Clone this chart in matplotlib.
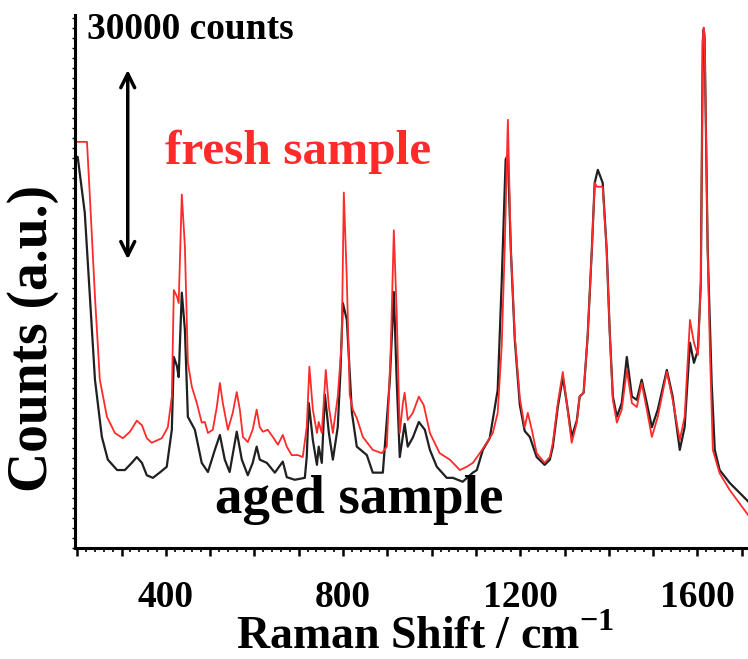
import numpy as np
import matplotlib
matplotlib.use('Agg')
import matplotlib.pyplot as plt
from matplotlib.ticker import MultipleLocator, FuncFormatter, NullFormatter

plt.rcParams['font.family'] = ['Liberation Serif', 'DejaVu Serif']
plt.rcParams['font.weight'] = 'bold'
plt.rcParams['mathtext.fontset'] = 'custom'
plt.rcParams['mathtext.rm'] = 'Liberation Serif'
plt.rcParams['mathtext.bf'] = 'Liberation Serif:bold'

# Raman shift (cm-1) and counts (x1000)
fresh_shift = [199, 210, 222, 228.5, 240, 251, 267, 285, 303, 319, 334.5, 346, 357, 368,
               391, 404.5, 413.5, 418, 425, 429, 436, 443, 449.7, 458.7, 470, 481, 488,
               495, 506, 515, 522, 528.6, 540, 551, 560, 567, 574, 585, 596, 605, 612,
               619, 630, 641.5, 653, 664, 673, 684, 698, 709, 718, 724, 731.8, 741, 745,
               752, 761, 768, 777, 788, 797, 801.7, 808.5, 815, 822, 831, 844.6, 867,
               887.5, 898.8, 907.8, 914.6, 921, 928, 935, 939, 946, 957.5, 971, 982, 996,
               1018, 1041, 1063.6, 1079, 1093, 1108.7, 1124.5, 1138, 1149, 1158, 1165,
               1172, 1178.7, 1187.7, 1199, 1210, 1217, 1226, 1237, 1255, 1266.7, 1273.5,
               1284.7, 1296, 1305, 1316, 1327.6, 1334, 1343, 1352, 1361.5, 1368, 1373,
               1386, 1395, 1402, 1409, 1418, 1429, 1440.5, 1452, 1463, 1474, 1485.6, 1497,
               1510.4, 1530.8, 1544, 1560, 1571, 1583, 1592, 1601, 1607.5, 1610, 1612,
               1614, 1616, 1621, 1623, 1628, 1634.6, 1650, 1673, 1714]
fresh_counts = [62.5, 62.5, 62.5, 54.1, 38.7, 25.9, 20.2, 17.7, 16.9, 17.9, 19.6, 18.9, 16.9,
                16.2, 16.9, 18.6, 23.3, 39.7, 38.7, 37.7, 54.4, 46.4, 28.5, 24.8, 22.3, 19.3,
                19.4, 17.7, 18.2, 21.7, 25.4, 22.3, 18.2, 20.8, 24.0, 21.3, 17.1, 16.3, 18.2,
                21.3, 18.6, 17.9, 18.2, 17.1, 15.9, 17.4, 15.6, 14.3, 14.3, 14.0, 18.6, 27.9,
                21.3, 17.7, 19.4, 17.7, 27.4, 21.7, 17.7, 23.3, 31.6, 54.7, 41.3, 23.6, 21.3,
                20.0, 17.1, 15.1, 14.6, 15.6, 31.0, 48.9, 36.2, 17.7, 22.3, 23.9, 19.7, 20.8,
                23.3, 22.0, 17.7, 14.6, 13.6, 12.0, 12.5, 13.1, 14.6, 16.2, 17.7, 20.8, 31.0,
                46.4, 65.9, 45.9, 32.5, 23.1, 18.6, 20.8, 18.2, 14.6, 13.1, 14.0, 16.2, 22.3,
                27.1, 22.3, 16.2, 19.3, 23.3, 23.9, 32.5, 45.9, 56.2, 55.6, 55.6, 45.9, 33.1,
                22.8, 19.3, 21.3, 27.4, 22.3, 21.7, 25.4, 21.3, 17.1, 20.2, 27.1, 22.8, 16.6,
                20.2, 35.1, 31.6, 29.7, 40.8, 62.0, 78.0, 80.1, 79.0, 55.0, 45.9, 30.5, 15.1,
                11.5, 8.9, 5.1]

aged_shift = [199, 201, 217, 228.5, 240, 255.6, 269, 290, 307.5, 323, 334.5, 346, 357, 370.7,
              386, 402, 413.5, 418, 425, 429, 436, 443, 449.7, 465.5, 481, 495, 510.6, 522,
              533, 544, 560, 571.5, 585, 596, 605, 612, 628, 646, 664, 673, 691, 713.7, 718,
              722.7, 731.8, 741, 745, 752, 759, 768, 777, 788, 794, 799.5, 808.5, 820, 831,
              853.7, 867, 889.8, 905.6, 914.6, 921, 928, 939, 946, 957.5, 971, 984.6, 996,
              1011.6, 1034, 1047.8, 1070, 1093, 1102, 1115.5, 1131, 1149, 1158, 1167, 1172,
              1178.7, 1187.7, 1199, 1210, 1221.5, 1237, 1255, 1266.7, 1273.5, 1284.7, 1296,
              1305, 1316, 1327.6, 1334, 1343, 1352, 1361.5, 1368, 1375, 1386, 1395, 1402,
              1409, 1418, 1429, 1440.5, 1452, 1463, 1474, 1485.6, 1497, 1510.4, 1530.8, 1544,
              1560, 1571, 1583, 1592, 1601, 1607.5, 1610, 1612, 1614, 1616, 1621, 1623, 1632,
              1639, 1650, 1673, 1714]
aged_counts = [60.2, 60.2, 51.6, 38.7, 25.9, 17.1, 13.6, 12.0, 12.0, 13.1, 14.0, 13.1, 11.2,
               10.8, 11.6, 12.5, 18.2, 29.4, 28.0, 26.3, 39.3, 33.6, 20.2, 18.2, 13.1, 11.7,
               15.1, 17.4, 13.6, 11.7, 17.9, 13.6, 11.2, 13.1, 15.6, 13.6, 13.1, 11.6, 13.3,
               10.9, 10.5, 10.8, 14.0, 22.3, 16.6, 12.8, 15.6, 13.1, 23.6, 17.7, 13.6, 18.6,
               27.0, 37.7, 35.1, 20.8, 15.6, 14.3, 11.6, 11.6, 25.9, 39.4, 25.9, 14.0, 19.1,
               15.6, 17.0, 19.4, 18.2, 15.1, 12.5, 10.8, 10.8, 10.2, 11.6, 12.0, 15.1, 16.9,
               24.3, 40.8, 59.8, 60.5, 45.9, 32.0, 22.0, 18.0, 17.1, 14.0, 12.8, 13.6, 15.6,
               21.7, 26.3, 22.3, 17.1, 19.6, 23.3, 23.9, 32.5, 45.9, 56.2, 58.2, 56.2, 45.9,
               33.1, 23.3, 20.2, 22.3, 29.4, 23.3, 22.8, 25.9, 22.3, 18.6, 21.3, 27.4, 23.3,
               15.1, 18.6, 31.6, 28.5, 30.5, 40.8, 62.0, 78.0, 79.8, 78.5, 55.0, 45.9, 25.4,
               15.1, 12.0, 10.0, 7.2]

scale_bar = 30  # 30000 counts

fig = plt.figure(figsize=(7.48, 6.59), dpi=100)
ax = fig.add_axes([0.1003, 0.1684, 0.8997, 0.8086])

ax.plot(aged_shift, aged_counts, color='#202020', lw=1.6)
ax.plot(fresh_shift, fresh_counts, color='#ff2a2a', lw=1.3)

ax.set_xlim(195, 1714)
ax.set_ylim(0, 82)

for s in ['top', 'right']:
    ax.spines[s].set_visible(False)
for s in ['left', 'bottom']:
    ax.spines[s].set_linewidth(2.2)

ax.xaxis.set_major_locator(MultipleLocator(100))
ax.xaxis.set_minor_locator(MultipleLocator(20))
ax.xaxis.set_major_formatter(FuncFormatter(lambda v, p: '%d' % v if v % 400 == 0 else ''))
ax.tick_params(axis='x', which='major', direction='out', length=6, width=1.8,
               labelsize=27, pad=17)
ax.tick_params(axis='x', which='minor', direction='out', length=3, width=1.2)
ax.yaxis.set_major_locator(MultipleLocator(1.54))
ax.yaxis.set_major_formatter(NullFormatter())
ax.tick_params(axis='y', which='major', direction='out', length=2, width=1)
for lab in ax.get_xticklabels():
    lab.set_fontweight('bold')

ax.set_xlabel(r'Raman Shift / cm$^{\mathbf{-1}}$', fontsize=33, fontweight='bold', va='center')
ax.xaxis.set_label_coords(0.52, -0.168)
ax.set_ylabel('Counts (a.u.)', fontsize=40, fontweight='bold', va='center')
ax.yaxis.set_label_coords(-0.062, 0.394)

# scale bar
ax.annotate('', xy=(314, 44 + scale_bar), xytext=(314, 44),
            arrowprops=dict(arrowstyle='<->', color='black', lw=2.5, mutation_scale=25))
ax.text(222, 79.8, '30000 counts', fontsize=27, fontweight='bold', va='center', ha='left')
ax.text(398, 61, 'fresh sample', fontsize=35.5, fontweight='bold', color='#ff2a2a',
        va='center', ha='left')
ax.text(510, 7.4, 'aged sample', fontsize=39.5, fontweight='bold', color='black',
        va='center', ha='left')

fig.savefig('out.png', dpi=100)
